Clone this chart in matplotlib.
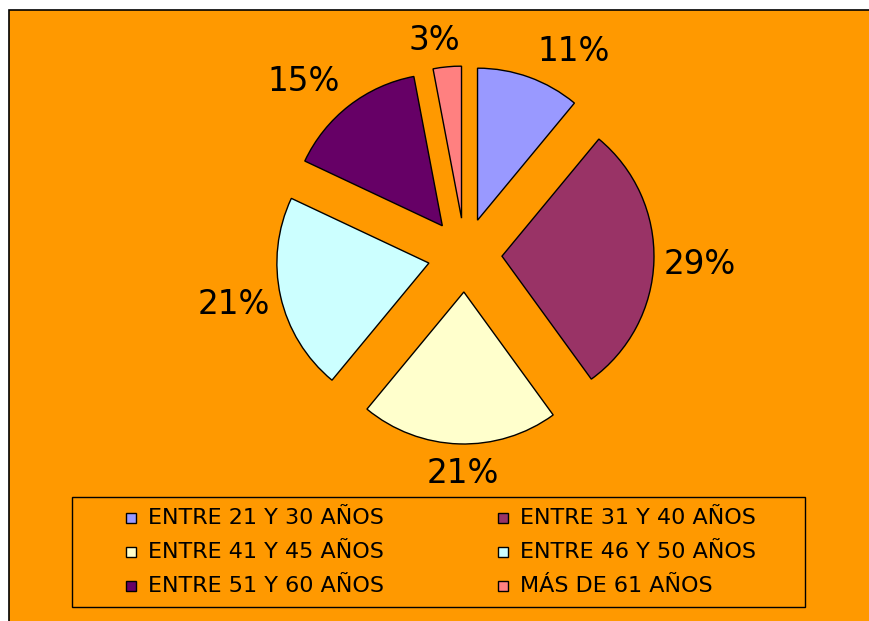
import matplotlib.pyplot as plt
from matplotlib.patches import Rectangle

# datos
etiquetas = ['ENTRE 21 Y 30 AÑOS', 'ENTRE 31 Y 40 AÑOS', 'ENTRE 41 Y 45 AÑOS',
             'ENTRE 46 Y 50 AÑOS', 'ENTRE 51 Y 60 AÑOS', 'MÁS DE 61 AÑOS']
valores = [11, 29, 21, 21, 15, 3]
colores = ['#9999FF', '#993366', '#FFFFCC', '#CCFFFF', '#660066', '#FF8080']

W, H = 870, 621
fig = plt.figure(figsize=(W / 100, H / 100), dpi=100, facecolor='white')
ax = fig.add_axes([0, 0, 1, 1])

# fondo naranja con borde
ax.add_patch(Rectangle((9, -10), W, H - 0, facecolor='#FF9900',
                       edgecolor='black', linewidth=1.2, zorder=0))

# el explode de matplotlib va en unidades de datos (aquí píxeles)
cx, cy, r = 465, H - 255, 152
wedges, textos = ax.pie(valores, colors=colores, startangle=90, counterclock=False,
                        explode=[37] * len(valores), center=(cx, cy), radius=r,
                        labels=[f'{v}%' for v in valores], labeldistance=1.26,
                        wedgeprops=dict(edgecolor='black', linewidth=1.0),
                        textprops=dict(fontsize=23.5, color='black'))

# pequeños ajustes de las etiquetas (Excel las separa para que no choquen)
ajustes = [(31, -12), (6, -2), (5, 10), (-8, 0), (-21, -7), (-9, -13)]
for t, (dx, dy) in zip(textos, ajustes):
    x, y = t.get_position()
    t.set_position((x + dx, y + dy))
    t.set_ha('center')
    t.set_va('center')

# leyenda dibujada a mano
ax.add_patch(Rectangle((72, H - 607), 733, 110, facecolor='none',
                       edgecolor='black', linewidth=1.0, zorder=3))
col_x = [131, 503]
fila_y = [518, 552, 586]
for i, (lab, col) in enumerate(zip(etiquetas, colores)):
    x = col_x[i % 2]
    y = H - fila_y[i // 2]
    ax.add_patch(Rectangle((x - 5, y - 5), 10, 10, facecolor=col,
                           edgecolor='black', linewidth=1.0, zorder=4))
    ax.text(x + 17, y, lab, fontsize=16, va='center', ha='left', zorder=4)

ax.set_xlim(0, W)
ax.set_ylim(0, H)
ax.set_aspect('equal')
ax.axis('off')

plt.savefig('out.png', dpi=100, facecolor='white')
